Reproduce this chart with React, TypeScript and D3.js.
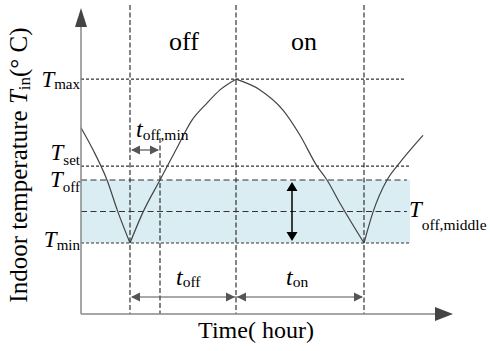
import React from 'react';
import * as d3 from 'd3';

// temperature levels (Tmin = 0, Toff = 1)
const levelNames = ['max', 'set', 'off', 'middle', 'min'];
const levelValues = [2.6, 1.22, 1.0, 0.5, 0];
const levelDash = ['3,2', '3,2', '6,3.5', '6,3.5', '3,2'];
const levelEnd = [32.4, 32.8, 32.6, 32.6, 32.9];

// switching instants (time units)
const switchTimes = [4.9, 15.5, 28.3];
const tOffMinEnd = 7.9;

// indoor temperature trace
const seg1: [number, number][] = [[0, 1.83], [1.2, 1.48], [2.6, 1.0], [3.7, 0.49], [4.9, 0]];
const seg2: [number, number][] = [[4.9, 0], [6.2, 0.49], [7.9, 1.0], [9.5, 1.48], [11.1, 1.95], [12.6, 2.22], [13.9, 2.43], [15.5, 2.6]];
const seg3: [number, number][] = [[15.5, 2.6], [17.9, 2.43], [20.2, 2.11], [21.9, 1.71], [23.6, 1.22], [24.6, 1.0], [25.9, 0.63], [28.3, 0]];
const seg4: [number, number][] = [[28.3, 0], [29.2, 0.49], [30.6, 1.0], [31.7, 1.24], [34.2, 1.71]];
const segments = [seg1, seg2, seg3, seg4];

const W = 490;
const H = 351;
const font = '"Liberation Serif", "Times New Roman", serif';

export default function App() {
  const x = d3.scaleLinear().domain([0, 37.2]).range([81, 453]);
  const y = d3.scaleLinear().domain([-1.127, 3.73]).range([314, 8]);
  const line = d3.line<[number, number]>().x(d => x(d[0])).y(d => y(d[1])).curve(d3.curveMonotoneX);

  const lv = (n: string) => levelValues[levelNames.indexOf(n)];
  const x0 = x(0);
  const y0 = y(-1.127);
  const yTop = y(3.73);
  const xEnd = x(37.2);

  const hHead = (px: number, py: number, dir: number, c: string) =>
    <path d={`M${px},${py} L${px - dir * 9},${py - 4.5} L${px - dir * 9},${py + 4.5} Z`} fill={c} />;
  const vHead = (px: number, py: number, dir: number, c: string) =>
    <path d={`M${px},${py} L${px - 5.5},${py - dir * 9} L${px + 5.5},${py - dir * 9} Z`} fill={c} />;

  const arrowY = 297;
  const minArrowY = 150;
  const vx = 292;

  return (
    <svg width={W} height={H} style={{ position: 'absolute', left: 0, top: 0, background: '#fff' }} fontFamily={font}>
      {/* band between Tmin and Toff */}
      <rect x={x0} y={y(lv('off'))} width={x(32.9) - x0} height={y(lv('min')) - y(lv('off'))} fill="#d9edf3" />

      {/* horizontal levels */}
      {levelNames.map((n, i) => (
        <line key={n} x1={x0} x2={x(levelEnd[i])} y1={y(levelValues[i])} y2={y(levelValues[i])}
          stroke="#333" strokeWidth={1.2} strokeDasharray={levelDash[i]} />
      ))}

      {/* vertical switching lines */}
      {switchTimes.map(t => (
        <line key={t} x1={x(t)} x2={x(t)} y1={yTop - 3} y2={y0} stroke="#333" strokeWidth={1.2} strokeDasharray="5,2.5" />
      ))}
      <line x1={x(tOffMinEnd)} x2={x(tOffMinEnd)} y1={138} y2={y0} stroke="#333" strokeWidth={1.2} strokeDasharray="5,2.5" />

      {/* temperature trace */}
      {segments.map((s, i) => (
        <path key={i} d={line(s) || ''} fill="none" stroke="#444" strokeWidth={1.2} />
      ))}

      {/* axes */}
      <line x1={x0} x2={x0} y1={y0} y2={yTop + 16} stroke="#888" strokeWidth={1.5} />
      <path d={`M${x0},${yTop} L${x0 - 6},${yTop + 19} L${x0 + 6},${yTop + 19} Z`} fill="#444" />
      <line x1={x0} x2={xEnd - 16} y1={y0} y2={y0} stroke="#888" strokeWidth={1.5} />
      <path d={`M${xEnd},${y0} L${xEnd - 18},${y0 - 7} L${xEnd - 18},${y0 + 7} Z`} fill="#444" />

      {/* t_off,min arrow */}
      <line x1={x(switchTimes[0]) + 2} x2={x(tOffMinEnd) - 2} y1={minArrowY} y2={minArrowY} stroke="#555" strokeWidth={1.2} />
      {hHead(x(switchTimes[0]) + 1, minArrowY, -1, '#555')}
      {hHead(x(tOffMinEnd) - 1, minArrowY, 1, '#555')}

      {/* t_off and t_on arrows */}
      <line x1={x(switchTimes[0]) + 2} x2={x(switchTimes[2]) - 2} y1={arrowY} y2={arrowY} stroke="#555" strokeWidth={1.2} />
      {hHead(x(switchTimes[0]) + 1, arrowY, -1, '#555')}
      {hHead(x(switchTimes[1]) - 1, arrowY, 1, '#555')}
      {hHead(x(switchTimes[1]) + 1, arrowY, -1, '#555')}
      {hHead(x(switchTimes[2]) - 1, arrowY, 1, '#555')}

      {/* vertical double arrow */}
      <line x1={vx} x2={vx} y1={y(lv('off')) + 4} y2={y(lv('min')) - 4} stroke="#000" strokeWidth={1.5} />
      {vHead(vx, y(lv('off')) + 2, -1, '#000')}
      {vHead(vx, y(lv('min')) - 2, 1, '#000')}

      {/* state labels */}
      <text x={184} y={50} fontSize={26} textAnchor="middle" fill="#000">off</text>
      <text x={304} y={50} fontSize={26} textAnchor="middle" fill="#000">on</text>

      {/* level labels */}
      {[['max', 87, 2], ['set', 160, 5], ['off', 187, 5], ['min', 247, 3]].map(([n, by, dy]) => (
        <text key={n as string} x={80} y={by as number} textAnchor="end" fontSize={23} fill="#000">
          <tspan fontStyle="italic">T</tspan><tspan fontSize={15} dy={dy as number}>{n}</tspan>
        </text>
      ))}
      <text x={409} y={217} fontSize={23} fill="#000">
        <tspan fontStyle="italic">T</tspan><tspan fontSize={15.5} dy={13}>off,middle</tspan>
      </text>

      {/* time labels */}
      <text x={136} y={137} fontSize={24} fill="#000">
        <tspan fontStyle="italic">t</tspan><tspan fontSize={15.5} dy={3}>off,min</tspan>
      </text>
      <text x={176} y={285} fontSize={24} fill="#000">
        <tspan fontStyle="italic">t</tspan><tspan fontSize={15.5} dy={2}>off</tspan>
      </text>
      <text x={286} y={285} fontSize={24} fill="#000">
        <tspan fontStyle="italic">t</tspan><tspan fontSize={15.5} dy={2}>on</tspan>
      </text>

      {/* axis titles */}
      <text x={256} y={338} fontSize={24} textAnchor="middle" fill="#000">Time( hour)</text>
      <text transform="translate(27,165) rotate(-90)" textAnchor="middle" fontSize={25} fill="#000">
        Indoor temperature <tspan fontStyle="italic">T</tspan><tspan fontSize={17} dy={3}>in</tspan><tspan dy={-3}>(° C)</tspan>
      </text>
    </svg>
  );
}
